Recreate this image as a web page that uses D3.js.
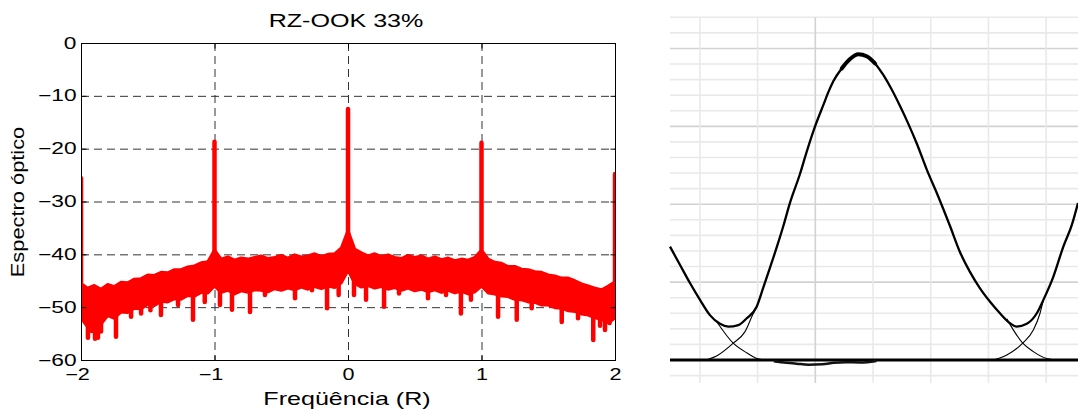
<!DOCTYPE html>
<html>
<head>
<meta charset="utf-8">
<script src="https://cdn.jsdelivr.net/npm/d3@7"></script>
<style>
body { margin: 0; background: #fff; }
text { font-family: "Liberation Sans", Arial, sans-serif; fill: #000; }
</style>
</head>
<body>
<svg id="fig" width="1078" height="411"></svg>
<script>
// ---------- spectrum (left panel) ----------
let bandStart = -2, bandStep = 0.05;
// upper edge of the noise band, dB, every 0.05 R from -2 to 2
let bandTop = [-45.5,-46.4,-45.9,-46.6,-45.7,-46.1,-45.3,-45.4,-44.7,-44.6,
  -43.9,-44.0,-43.4,-43.5,-42.9,-42.9,-42.4,-42.2,-41.6,-41.4,
  -39.2,-40.9,-40.5,-41.1,-40.7,-40.9,-40.6,-40.3,-40.8,-40.6,
  -40.2,-40.7,-40.1,-40.5,-40.3,-39.9,-40.4,-40.0,-39.9,-38.8,
  -35.5,-39.0,-39.7,-40.3,-39.9,-40.4,-40.1,-40.6,-40.8,-40.2,
  -40.6,-40.3,-40.9,-40.5,-41.0,-40.7,-41.2,-40.9,-41.1,-40.6,
  -39.2,-40.9,-41.5,-41.7,-42.3,-42.3,-42.8,-42.9,-43.3,-43.4,
  -43.9,-44.1,-44.5,-44.5,-45.0,-45.6,-46.0,-46.4,-46.7,-46.0,-45.2];
// lower edge of the dense part of the band
let bandLow = [-52.0,-53.8,-52.4,-53.2,-51.6,-52.1,-50.9,-51.0,-50.2,-50.3,
  -49.5,-49.7,-48.9,-49.0,-48.4,-48.5,-47.8,-47.9,-47.2,-47.3,
  -46.0,-47.2,-46.8,-47.5,-46.9,-47.2,-46.7,-46.8,-47.1,-46.5,
  -46.8,-46.4,-46.7,-46.2,-46.6,-46.1,-46.5,-46.0,-46.3,-45.4,
  -43.0,-45.5,-46.2,-45.9,-46.4,-46.1,-46.6,-46.3,-46.8,-46.4,
  -46.9,-46.6,-47.1,-46.7,-47.2,-46.8,-47.3,-47.0,-47.5,-47.1,
  -46.0,-47.3,-47.5,-47.9,-48.0,-48.5,-48.6,-49.0,-49.1,-49.6,
  -49.6,-50.1,-50.2,-50.7,-50.8,-51.3,-51.5,-52.0,-52.3,-53.0,-52.0];
// deep notches below the band [freq, dB]
let notches = [[-1.97,-52.5],[-1.948,-55.8],[-1.92,-54.5],[-1.895,-56.0],[-1.873,-55.8],
  [-1.85,-54.6],[-1.738,-55.6],[-1.625,-51.8],[-1.55,-51.2],[-1.48,-50.6],[-1.401,-51.5],
  [-1.273,-49.6],[-1.161,-52.4],[-1.073,-49.0],[-0.959,-49.6],[-0.869,-50.5],[-0.734,-50.9],
  [-0.622,-47.7],[-0.397,-48.3],[-0.27,-46.8],[-0.157,-50.2],[-0.07,-47.7],[0.045,-47.7],
  [0.135,-48.6],[0.27,-49.9],[0.382,-47.4],[0.599,-48.3],[0.734,-47.7],[0.846,-51.2],
  [0.921,-48.6],[1.124,-51.8],[1.264,-52.4],[1.376,-50.2],[1.601,-52.8],[1.723,-52.1],
  [1.837,-56.2],[1.888,-53.5],[1.925,-54.3],[1.96,-53.0]];
// clock tones [freq, peak dB]
let tones = [[-2,-25.6],[-1,-18.7],[0,-12.5],[1,-18.9],[2,-24.8]];

let xTicks = [-2,-1,0,1,2];
let yTicks = [0,-10,-20,-30,-40,-50,-60];

// ---------- eye diagram (right panel) ----------
// thick upper trace [time ps, normalised amplitude]
let eyeUpper = [[-12.59,0.364],[-11.72,0.305],[-10.86,0.247],[-9.99,0.193],[-9.13,0.144],
  [-8.26,0.116],[-7.54,0.107],[-6.67,0.112],[-5.94,0.134],[-5.08,0.171],[-4.51,0.232],
  [-3.93,0.296],[-3.34,0.362],[-2.77,0.430],[-2.19,0.505],[-1.33,0.597],[-0.75,0.668],
  [-0.03,0.749],[0.69,0.818],[1.13,0.860],[1.56,0.895],[2.29,0.936],[3.01,0.966],
  [3.73,0.981],[4.45,0.975],[5.17,0.952],[5.89,0.915],[6.62,0.868],[7.34,0.815],
  [8.06,0.758],[8.79,0.695],[9.65,0.612],[10.66,0.524],[11.67,0.430],[12.54,0.346],
  [13.41,0.282],[14.27,0.230],[15.14,0.187],[16.0,0.150],[16.87,0.118],[17.45,0.107],
  [18.32,0.116],[19.19,0.150],[19.76,0.193],[20.62,0.267],[21.49,0.364],[22.22,0.433],[22.76,0.504]];
// thin single-pulse feet
let tailPrev = [[-8.54,0.123],[-7.11,0.054],[-5.94,0.023],[-4.79,0.002],[-3.8,0]];
let footMain = [[-9.41,0],[-8.41,0.016],[-7.11,0.054],[-6.09,0.091],[-5.37,0.150],[-5.08,0.171]];
let tailMain = [[16.59,0.132],[17.97,0.054],[18.89,0.027],[20.05,0.005],[21.2,0]];
let footNext = [[15.42,0],[16.59,0.016],[17.97,0.054],[18.89,0.096],[19.47,0.150],[19.76,0.193]];
// zero level ripple
let zeroRipple = [[-3.6,-0.004],[-2.5,-0.009],[-1.6,-0.012],[-0.6,-0.015],[0.6,-0.014],
  [1.6,-0.009],[2.6,-0.007],[3.9,-0.008],[5.3,-0.003]];
let eyeTimeGrid = [-10,-5,0,5,10,15,20];

let svg = d3.select("#fig");

// stretch text horizontally like the original export
function widen(sel, k) {
  sel.each(function() {
    let w = this.getComputedTextLength();
    d3.select(this).attr("textLength", w * k).attr("lengthAdjust", "spacingAndGlyphs");
  });
}

// ================= left panel =================
let plot = {left:81, right:615, top:43, bottom:360};
let x = d3.scaleLinear().domain([-2,2]).range([plot.left, plot.right]);
let y = d3.scaleLinear().domain([-60,0]).range([plot.bottom, plot.top]);

svg.append("clipPath").attr("id","clipL")
  .append("rect").attr("x",plot.left).attr("y",plot.top)
  .attr("width",plot.right-plot.left).attr("height",plot.bottom-plot.top);

// dashed grid
let grid = svg.append("g").attr("stroke","#333").attr("stroke-width",1).attr("stroke-dasharray","8,5");
grid.selectAll(".gx").data(xTicks.slice(1,-1)).enter().append("line")
  .attr("x1",d=>x(d)+0.5).attr("x2",d=>x(d)+0.5).attr("y1",plot.top).attr("y2",plot.bottom);
grid.selectAll(".gy").data(yTicks.slice(1,-1)).enter().append("line")
  .attr("y1",d=>y(d)+0.5).attr("y2",d=>y(d)+0.5).attr("x1",plot.left).attr("x2",plot.right);

let dataG = svg.append("g").attr("clip-path","url(#clipL)");
let bandIdx = d3.range(bandTop.length);
let area = d3.area()
  .x(i => x(bandStart + i*bandStep))
  .y0(i => y(bandLow[i]))
  .y1(i => y(bandTop[i]));
dataG.append("path").datum(bandIdx).attr("d",area)
  .attr("fill","#ff0000").attr("stroke","#ff0000").attr("stroke-width",3).attr("stroke-linejoin","round");

function lowAt(f) { return bandLow[Math.round((f - bandStart)/bandStep)]; }

dataG.selectAll(".notch").data(notches).enter().append("line")
  .attr("x1",d=>x(d[0])).attr("x2",d=>x(d[0]))
  .attr("y1",d=>y(lowAt(d[0]) + 1)).attr("y2",d=>y(d[1]))
  .attr("stroke","#ff0000").attr("stroke-width",4.5).attr("stroke-linecap","round");

dataG.selectAll(".tone").data(tones).enter().append("line")
  .attr("x1",d=>x(d[0])).attr("x2",d=>x(d[0]))
  .attr("y1",d=>y(lowAt(d[0]))).attr("y2",d=>y(d[1]))
  .attr("stroke","#ff0000").attr("stroke-width",4.5).attr("stroke-linecap","round");

// box
svg.append("rect").attr("x",plot.left+0.5).attr("y",plot.top+0.5)
  .attr("width",plot.right-plot.left).attr("height",plot.bottom-plot.top)
  .attr("fill","none").attr("stroke","#000").attr("stroke-width",1);

// axes with inward ticks
let yAxis = svg.append("g").attr("transform",`translate(${plot.left+0.5},0)`)
  .call(d3.axisLeft(y).tickValues(yTicks).tickSizeInner(-5).tickSizeOuter(0).tickPadding(5).tickFormat(d3.format("d")));
let yAxisR = svg.append("g").attr("transform",`translate(${plot.right+0.5},0)`)
  .call(d3.axisRight(y).tickValues(yTicks).tickSizeInner(-5).tickSizeOuter(0).tickFormat(""));
let xAxis = svg.append("g").attr("transform",`translate(0,${plot.bottom+0.5})`)
  .call(d3.axisBottom(x).tickValues(xTicks).tickSizeInner(-5).tickSizeOuter(0).tickPadding(8).tickFormat(d3.format("d")));
let xAxisT = svg.append("g").attr("transform",`translate(0,${plot.top+0.5})`)
  .call(d3.axisTop(x).tickValues(xTicks).tickSizeInner(-5).tickSizeOuter(0).tickFormat(""));
[yAxis,yAxisR,xAxis,xAxisT].forEach(a => {
  a.select(".domain").remove();
  a.selectAll("line").attr("stroke","#000");
  a.selectAll("text").attr("font-size",16).attr("font-family","Liberation Sans, Arial, sans-serif").attr("fill","#000");
});
widen(yAxis.selectAll("text"), 1.42);
widen(xAxis.selectAll("text"), 1.35);
xAxis.selectAll("text").filter(d => d < 0).attr("dx", -4);

// titles
let title = svg.append("text").attr("x",346).attr("y",27).attr("text-anchor","middle")
  .attr("font-size",19).text("RZ-OOK 33%");
widen(title, 1.32);
let xLab = svg.append("text").attr("x",347).attr("y",405).attr("text-anchor","middle")
  .attr("font-size",19).text("Freqüência (R)");
widen(xLab, 1.32);
let yLab = svg.append("text").attr("transform","translate(24,202) rotate(-90)").attr("text-anchor","middle")
  .attr("font-size",18.5).text("Espectro óptico");
widen(yLab, 1.18);

// ================= right panel =================
let eye = {left:670, right:1078};
let xe = d3.scaleLinear().domain([-12.59,22.76]).range([eye.left, eye.right]);
let ye = d3.scaleLinear().domain([0,1.1]).range([360,17.3]);

let ampGrid = d3.range(-1, 23).map(i => i*0.05);
let eg = svg.append("g");
eg.selectAll(".h").data(ampGrid).enter().append("line")
  .attr("x1",eye.left).attr("x2",eye.right)
  .attr("y1",d=>ye(d)).attr("y2",d=>ye(d))
  .attr("stroke",(d,i)=> ((i-1)%5===0) ? "#d2d2d2" : "#e9e9e9").attr("stroke-width",1.6);
eg.selectAll(".v").data(eyeTimeGrid).enter().append("line")
  .attr("x1",d=>xe(d)).attr("x2",d=>xe(d))
  .attr("y1",ye(1.1)).attr("y2",ye(-0.074))
  .attr("stroke",d=> d===0 ? "#d2d2d2" : "#e9e9e9").attr("stroke-width",1.6);

let eyeLine = d3.line().x(d=>xe(d[0])).y(d=>ye(d[1])).curve(d3.curveMonotoneX);

// zero level
eg.append("line").attr("x1",eye.left).attr("x2",eye.right).attr("y1",ye(0)).attr("y2",ye(0))
  .attr("stroke","#000").attr("stroke-width",3);
eg.append("path").datum(zeroRipple).attr("d",eyeLine)
  .attr("fill","none").attr("stroke","#111").attr("stroke-width",2.5);

[tailPrev, footMain, tailMain, footNext].forEach(seg => {
  eg.append("path").datum(seg).attr("d",eyeLine)
    .attr("fill","none").attr("stroke","#000").attr("stroke-width",1.1);
});
eg.append("path").datum(eyeUpper).attr("d",eyeLine)
  .attr("fill","none").attr("stroke","#000").attr("stroke-width",2.3).attr("stroke-linejoin","round");
// heavier crest where traces pile up
eg.append("path").datum(eyeUpper.filter(d => d[1] > 0.93)).attr("d",eyeLine)
  .attr("fill","none").attr("stroke","#000").attr("stroke-width",4).attr("stroke-linecap","round");
</script>
</body>
</html>
